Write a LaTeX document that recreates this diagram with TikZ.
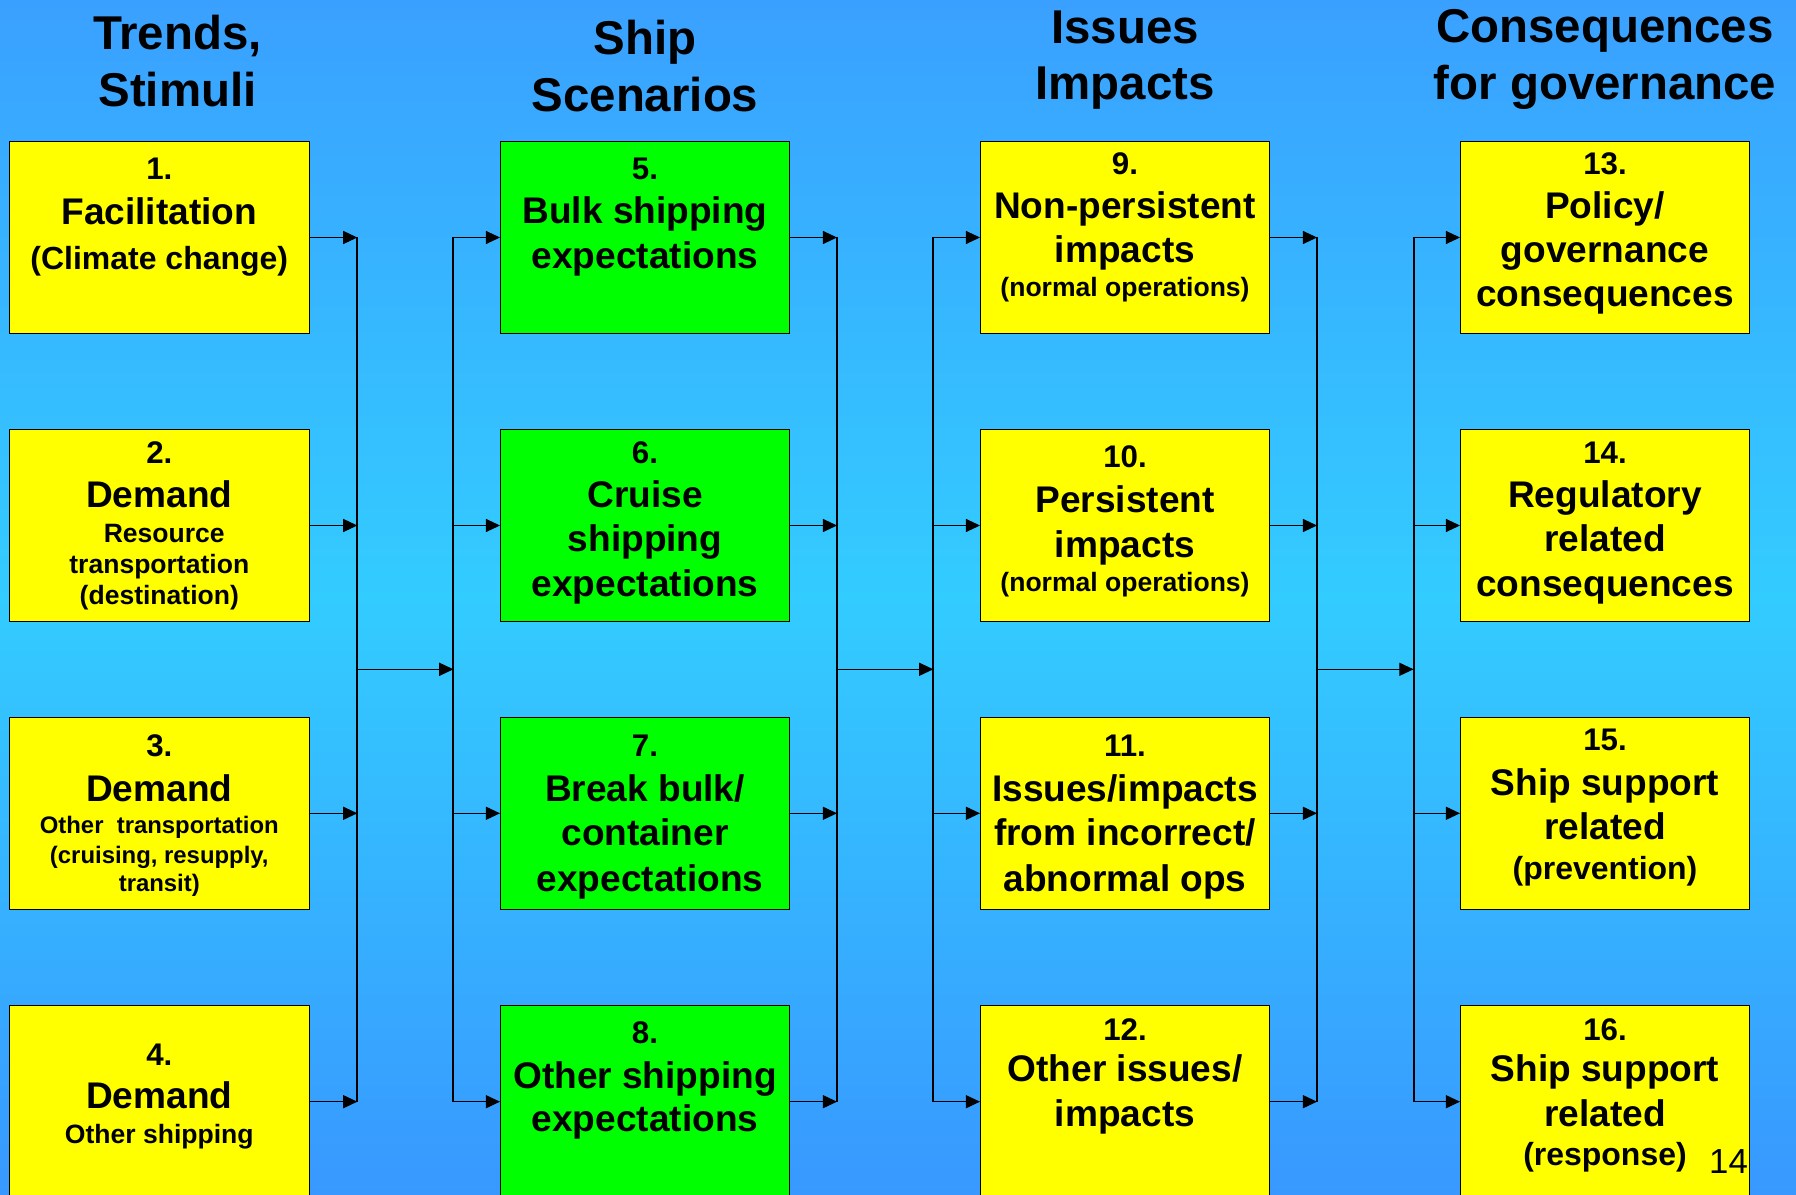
\documentclass[tikz,border=0pt]{standalone}
\usepackage{fontspec}
\setmainfont{Liberation Sans}
\usetikzlibrary{arrows.meta}

\definecolor{bgtop}{RGB}{58,160,255}
\definecolor{bgmid}{RGB}{51,204,255}
\definecolor{bgbot}{RGB}{56,152,255}
\definecolor{boxyellow}{RGB}{255,255,0}
\definecolor{boxgreen}{RGB}{0,255,0}

\tikzset{
  box/.style={draw=black, line width=0.6pt, inner sep=0pt, minimum height=3.84cm},
  wide/.style={box, minimum width=6.01cm},
  narrow/.style={box, minimum width=5.78cm},
  yel/.style={fill=boxyellow},
  grn/.style={fill=boxgreen},
  txt/.style={anchor=base, inner sep=0pt, text=black},
  ttl/.style={txt, font=\bfseries\fontsize{27pt}{32pt}\selectfont},
  num/.style={txt, font=\bfseries\fontsize{17.8pt}{20pt}\selectfont},
  big/.style={txt, font=\bfseries\fontsize{21.1pt}{25pt}\selectfont},
  med/.style={txt, font=\bfseries\fontsize{18.2pt}{21pt}\selectfont},
  sml/.style={txt, font=\bfseries\fontsize{15.1pt}{18pt}\selectfont},
  tiny/.style={txt, font=\bfseries\fontsize{13.6pt}{16pt}\selectfont},
  pg/.style={txt, font=\fontsize{19.8pt}{23pt}\selectfont},
  conn/.style={draw=black, line width=0.6pt, -{Triangle[length=8.1pt,width=7.5pt]}},
  bus/.style={draw=black, line width=1.15pt},
}

\begin{document}
\begin{tikzpicture}[x=0.02cm, y=-0.02cm]
  % page and background
  \useasboundingbox (0,0) rectangle (1796,1195);
  \fill[top color=bgtop, bottom color=bgbot, middle color=bgmid] (0,0) rectangle (1796,1195);

  % column headings
  \node[ttl] (h1a) at (177.5,49.3)  {Trends,};
  \node[ttl] (h1b) at (177.5,106.7) {Stimuli};
  \node[ttl] (h2a) at (645,55)      {Ship};
  \node[ttl] (h2b) at (645,111.7)   {Scenarios};
  \node[ttl] (h3a) at (1125,43.3)   {Issues};
  \node[ttl] (h3b) at (1125,100)    {Impacts};
  \node[ttl] (h4a) at (1605,42.7)   {Consequences};
  \node[ttl] (h4b) at (1605,100)    {for governance};

  % boxes: column 1
  \node[wide, yel] (b1) at (159.3,237.5)  {};
  \node[wide, yel] (b2) at (159.3,525.5)  {};
  \node[wide, yel] (b3) at (159.3,813.3)  {};
  \node[wide, yel] (b4) at (159.3,1101.7) {};
  % column 2
  \node[narrow, grn] (b5) at (645,237.5)  {};
  \node[narrow, grn] (b6) at (645,525.5)  {};
  \node[narrow, grn] (b7) at (645,813.3)  {};
  \node[narrow, grn] (b8) at (645,1101.7) {};
  % column 3
  \node[narrow, yel] (b9)  at (1125,237.5)  {};
  \node[narrow, yel] (b10) at (1125,525.5)  {};
  \node[narrow, yel] (b11) at (1125,813.3)  {};
  \node[narrow, yel] (b12) at (1125,1101.7) {};
  % column 4
  \node[narrow, yel] (b13) at (1605,237.5)  {};
  \node[narrow, yel] (b14) at (1605,525.5)  {};
  \node[narrow, yel] (b15) at (1605,813.3)  {};
  \node[narrow, yel] (b16) at (1605,1101.7) {};

  % box texts
  \node[num] (t1a) at (b1 |- 0,180)   {1.};
  \node[big] (t1b) at (b1 |- 0,225)   {Facilitation};
  \node[med] (t1c) at (b1 |- 0,269.3) {(Climate change)};

  \node[num] (t2a) at (b2 |- 0,463.3) {2.};
  \node[big] (t2b) at (b2 |- 0,507.3) {Demand};
  \node[sml] (t2c) at ([xshift=0.1cm]b2 |- 0,542.3) {Resource};
  \node[sml] (t2d) at (b2 |- 0,574)   {transportation};
  \node[sml] (t2e) at (b2 |- 0,605)   {(destination)};

  \node[num]  (t3a) at (b3 |- 0,756.7) {3.};
  \node[big]  (t3b) at (b3 |- 0,801.7) {Demand};
  \node[tiny] (t3c) at (b3 |- 0,834)   {Other~~transportation};
  \node[tiny] (t3d) at (b3 |- 0,864)   {(cruising, resupply,};
  \node[tiny] (t3e) at (b3 |- 0,891.7) {transit)};

  \node[num] (t4a) at (b4 |- 0,1065)   {4.};
  \node[big] (t4b) at (b4 |- 0,1108.3) {Demand};
  \node[sml] (t4c) at (b4 |- 0,1143)   {Other shipping};

  \node[num] (t5a) at (b5 |- 0,180)   {5.};
  \node[big] (t5b) at (b5 |- 0,224)   {Bulk shipping};
  \node[big] (t5c) at (b5 |- 0,268.3) {expectations};

  \node[num] (t6a) at (b6 |- 0,463.5) {6.};
  \node[big] (t6b) at (b6 |- 0,507.5) {Cruise};
  \node[big] (t6c) at (b6 |- 0,552)   {shipping};
  \node[big] (t6d) at (b6 |- 0,596.5) {expectations};

  \node[num] (t7a) at (b7 |- 0,757)   {7.};
  \node[big] (t7b) at (b7 |- 0,801.7) {Break bulk/};
  \node[big] (t7c) at (b7 |- 0,846)   {container};
  \node[big] (t7d) at ([xshift=0.1cm]b7 |- 0,891) {expectations};

  \node[num] (t8a) at (b8 |- 0,1043)   {8.};
  \node[big] (t8b) at (b8 |- 0,1088)   {Other shipping};
  \node[big] (t8c) at (b8 |- 0,1131.7) {expectations};

  \node[num] (t9a) at (b9 |- 0,175)   {9.};
  \node[big] (t9b) at (b9 |- 0,218.3) {Non-persistent};
  \node[big] (t9c) at (b9 |- 0,262.7) {impacts};
  \node[sml] (t9d) at (b9 |- 0,296.7) {(normal operations)};

  \node[num] (t10a) at (b10 |- 0,468)   {10.};
  \node[big] (t10b) at (b10 |- 0,513)   {Persistent};
  \node[big] (t10c) at (b10 |- 0,557.5) {impacts};
  \node[sml] (t10d) at (b10 |- 0,591.5) {(normal operations)};

  \node[num] (t11a) at (b11 |- 0,757)   {11.};
  \node[big] (t11b) at (b11 |- 0,801.7) {Issues/impacts};
  \node[big] (t11c) at (b11 |- 0,846)   {from incorrect/};
  \node[big] (t11d) at (b11 |- 0,891)   {abnormal ops};

  \node[num] (t12a) at (b12 |- 0,1040)   {12.};
  \node[big] (t12b) at (b12 |- 0,1081.7) {Other issues/};
  \node[big] (t12c) at (b12 |- 0,1126.7) {impacts};

  \node[num] (t13a) at (b13 |- 0,175)   {13.};
  \node[big] (t13b) at (b13 |- 0,218.3) {Policy/};
  \node[big] (t13c) at (b13 |- 0,262.7) {governance};
  \node[big] (t13d) at (b13 |- 0,306.7) {consequences};

  \node[num] (t14a) at (b14 |- 0,463.5) {14.};
  \node[big] (t14b) at (b14 |- 0,507.5) {Regulatory};
  \node[big] (t14c) at (b14 |- 0,552)   {related};
  \node[big] (t14d) at (b14 |- 0,596.5) {consequences};

  \node[num] (t15a) at (b15 |- 0,751) {15.};
  \node[big] (t15b) at (b15 |- 0,796) {Ship support};
  \node[big] (t15c) at (b15 |- 0,840) {related};
  \node[med] (t15d) at (b15 |- 0,880) {(prevention)};

  \node[num] (t16a) at (b16 |- 0,1040)   {16.};
  \node[big] (t16b) at (b16 |- 0,1081.7) {Ship support};
  \node[big] (t16c) at (b16 |- 0,1126.7) {related};
  \node[med] (t16d) at (b16 |- 0,1165)   {(response)};

  % slide number
  \node[pg] (pagenum) at (1728.5,1173) {14};

  % bus positions
  \coordinate (x1) at (357.3,669.3);
  \coordinate (x2) at (453.4,669.3);
  \coordinate (x3) at (837,669.3);
  \coordinate (x4) at (933.3,669.3);
  \coordinate (x5) at (1317,669.3);
  \coordinate (x6) at (1413.5,669.3);

  % vertical collector and distributor lines
  \draw[bus] (b1.east -| x1) -- (b4.east -| x1);
  \draw[bus] (b5.west -| x2) -- (b8.west -| x2);
  \draw[bus] (b5.east -| x3) -- (b8.east -| x3);
  \draw[bus] (b9.west -| x4) -- (b12.west -| x4);
  \draw[bus] (b9.east -| x5) -- (b12.east -| x5);
  \draw[bus] (b13.west -| x6) -- (b16.west -| x6);

  % links between adjacent collectors and distributors
  \draw[conn] (x1) -- (x2);
  \draw[conn] (x3) -- (x4);
  \draw[conn] (x5) -- (x6);

  % arrows out of the boxes into the collectors
  \foreach \b/\c in {b1/x1,b2/x1,b3/x1,b4/x1,b5/x3,b6/x3,b7/x3,b8/x3,b9/x5,b10/x5,b11/x5,b12/x5}
    \draw[conn] (\b.east) -- (\b.east -| \c);
  % arrows from the distributors into the boxes
  \foreach \b/\c in {b5/x2,b6/x2,b7/x2,b8/x2,b9/x4,b10/x4,b11/x4,b12/x4,b13/x6,b14/x6,b15/x6,b16/x6}
    \draw[conn] (\b.west -| \c) -- (\b.west);
\end{tikzpicture}
\end{document}
